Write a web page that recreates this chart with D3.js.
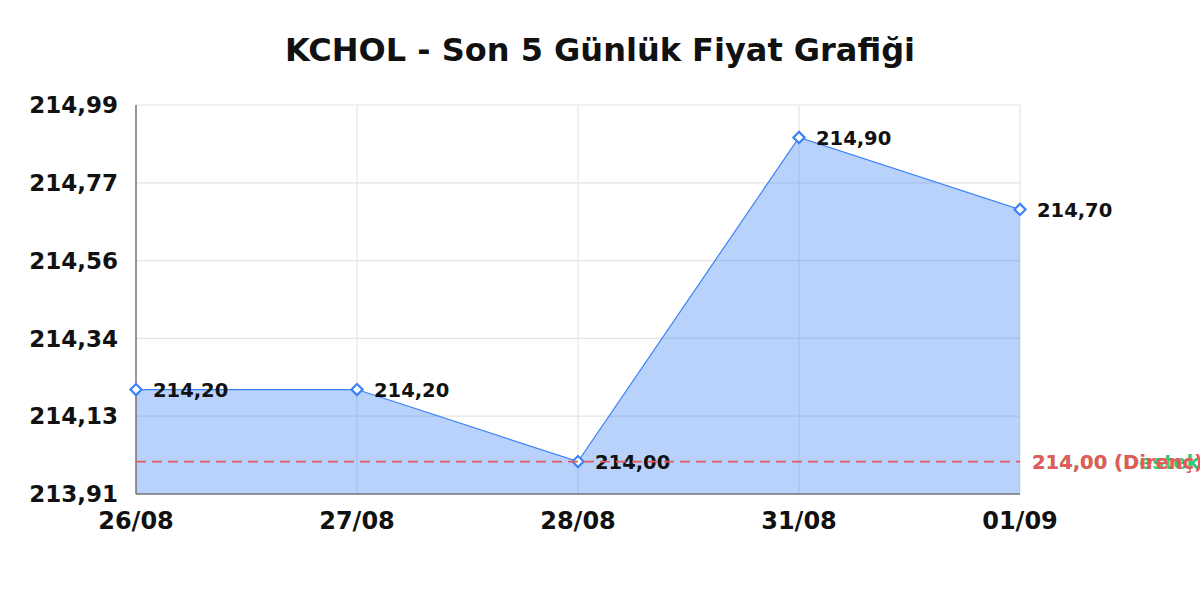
<!DOCTYPE html>
<html lang="tr">
<head>
<meta charset="UTF-8">
<title>KCHOL - Son 5 Günlük Fiyat Grafiği</title>
<script src="https://d3js.org/d3.v7.min.js"></script>
<style>
    body { margin: 0; background: #fff; }
    svg { display: block; font-family: "DejaVu Sans", sans-serif; }
    .tick-label { font-size: 24px; font-weight: bold; fill: #111; }
    .point-label { font-size: 19.5px; font-weight: bold; fill: #111; }
</style>
</head>
<body>
<div id="chart"></div>
<script>
    // Chart data
    const dates = ["26/08", "27/08", "28/08", "31/08", "01/09"];
    const prices = [214.20, 214.20, 214.00, 214.90, 214.70];
    const support = 214.00;
    const resistance = 214.00;
    const yTickCount = 6;

    const fmt = v => v.toFixed(2).replace(".", ",");

    const W = 1200, H = 600;
    const margin = { top: 105, right: 180, bottom: 106, left: 136 };

    const svg = d3.select("#chart").append("svg")
        .attr("width", W)
        .attr("height", H);

    // title
    svg.append("text")
        .attr("x", 600)
        .attr("y", 61)
        .attr("text-anchor", "middle")
        .style("font-size", "32px")
        .style("font-weight", "bold")
        .style("fill", "#111")
        .text("KCHOL - Son 5 Günlük Fiyat Grafiği");

    const x = d3.scalePoint()
        .domain(dates)
        .range([margin.left, W - margin.right]);

    const yMin = d3.min(prices) - 0.09;
    const yMax = d3.max(prices) + 0.09;
    const y = d3.scaleLinear()
        .domain([yMin, yMax])
        .range([H - margin.bottom, margin.top]);

    const yTicks = d3.range(yTickCount).map(i => yMin + (yMax - yMin) * i / (yTickCount - 1));

    // grid
    svg.append("g").selectAll("line.h")
        .data(yTicks)
        .enter().append("line")
        .attr("x1", margin.left).attr("x2", W - margin.right)
        .attr("y1", d => y(d)).attr("y2", d => y(d))
        .style("stroke", "#e4e4e4")
        .style("stroke-width", 1.2);

    svg.append("g").selectAll("line.v")
        .data(dates)
        .enter().append("line")
        .attr("x1", d => x(d)).attr("x2", d => x(d))
        .attr("y1", margin.top).attr("y2", H - margin.bottom)
        .style("stroke", "#e4e4e4")
        .style("stroke-width", 1.2);

    // area + line
    const area = d3.area()
        .x((d, i) => x(dates[i]))
        .y0(y(yMin))
        .y1(d => y(d));

    const line = d3.line()
        .x((d, i) => x(dates[i]))
        .y(d => y(d));

    svg.append("path")
        .datum(prices)
        .attr("d", area)
        .style("fill", "rgba(59,130,246,0.36)");

    svg.append("path")
        .datum(prices)
        .attr("d", line)
        .style("fill", "none")
        .style("stroke", "#3b82f6")
        .style("stroke-width", 1.2);

    // axes
    svg.append("line")
        .attr("x1", margin.left).attr("x2", margin.left)
        .attr("y1", margin.top).attr("y2", H - margin.bottom)
        .style("stroke", "#777").style("stroke-width", 1.5);
    svg.append("line")
        .attr("x1", margin.left).attr("x2", W - margin.right)
        .attr("y1", H - margin.bottom).attr("y2", H - margin.bottom)
        .style("stroke", "#777").style("stroke-width", 1.5);

    svg.append("g").selectAll("text")
        .data(yTicks)
        .enter().append("text")
        .attr("class", "tick-label")
        .style("font-size", "23px")
        .attr("x", margin.left - 18)
        .attr("y", d => y(d))
        .attr("dy", "0.36em")
        .attr("text-anchor", "end")
        .text(d => fmt(d));

    svg.append("g").selectAll("text")
        .data(dates)
        .enter().append("text")
        .attr("class", "tick-label")
        .attr("x", d => x(d))
        .attr("y", H - margin.bottom + 35)
        .attr("text-anchor", "middle")
        .text(d => d);

    // markers
    const diamond = d3.symbol().type(d3.symbolSquare).size(62);
    svg.append("g").selectAll("path")
        .data(prices)
        .enter().append("path")
        .attr("d", diamond)
        .attr("transform", (d, i) => `translate(${x(dates[i])},${y(d)}) rotate(45)`)
        .style("fill", "#fff")
        .style("stroke", "#3b82f6")
        .style("stroke-width", 2.2);

    // point labels
    svg.append("g").selectAll("text")
        .data(prices)
        .enter().append("text")
        .attr("class", "point-label")
        .attr("x", (d, i) => x(dates[i]) + 17)
        .attr("y", d => y(d))
        .attr("dy", "0.4em")
        .text(d => fmt(d));

    // support / resistance (same level, resistance drawn on top)
    const levels = [
        { value: support, label: "Destek", color: "#2ecc71", width: 1 },
        { value: resistance, label: "Direnç", color: "#e8595b", width: 1.8 }
    ];

    levels.forEach(l => {
        svg.append("line")
            .attr("x1", margin.left).attr("x2", W - margin.right)
            .attr("y1", y(l.value)).attr("y2", y(l.value))
            .style("stroke", l.color)
            .style("stroke-width", l.width)
            .style("stroke-dasharray", "10,6");
        svg.append("text")
            .attr("x", W - margin.right + 12)
            .attr("y", y(l.value))
            .attr("dy", "0.36em")
            .style("font-size", "19.5px")
            .style("font-weight", "bold")
            .style("fill", l.color)
            .text(`${fmt(l.value)} (${l.label})`);
    });
</script>
</body>
</html>
